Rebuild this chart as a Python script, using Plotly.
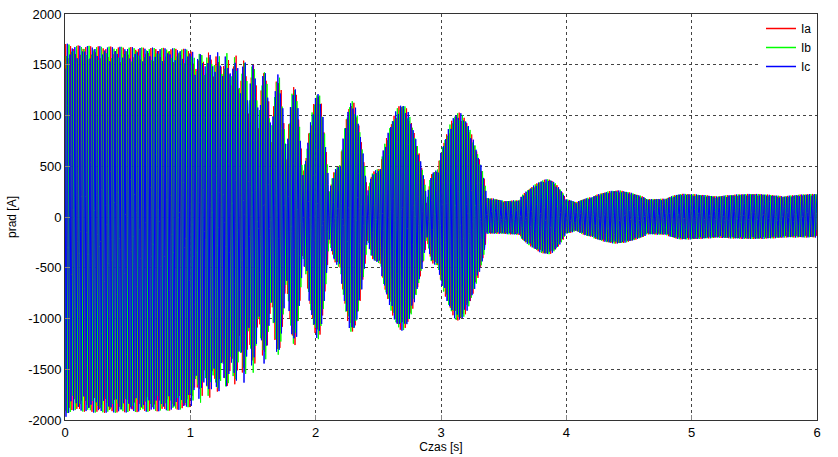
import numpy as np
import plotly.graph_objects as go

# ---- data ----
# envelope keypoints of the three-phase current (upper / lower edge of band), A
env_t = [0.00, 0.05, 0.30, 0.60, 0.90, 1.01, 1.045, 1.08, 1.115, 1.15, 1.185, 1.22, 1.255, 1.29, 1.325,
         1.36, 1.395, 1.43, 1.465, 1.50, 1.545, 1.59, 1.645, 1.70, 1.765, 1.83, 1.895, 1.93,
         2.02, 2.105, 2.165, 2.20, 2.29, 2.41, 2.46, 2.52, 2.69, 2.885, 2.93, 2.98, 3.14,
         3.36, 3.38, 3.50, 3.63, 3.856, 3.99, 4.08, 4.21, 4.40, 4.64, 4.80, 4.93, 5.20, 5.49, 5.73, 6.00]
env_up = [1710, 1690, 1680, 1670, 1660, 1650, 1450, 1645, 1430, 1635, 1420, 1625, 1380, 1615, 1300,
          1605, 1150, 1575, 1000, 1540, 850, 1460, 700, 1410, 500, 1295, 350, 600,
          1230, 180, 480, 520, 1145, 170, 440, 480, 1112, 100, 430, 470, 1030,
          190, 185, 155, 165, 372, 175, 140, 195, 262, 175, 180, 228, 200, 228, 200, 228]
env_lo = [-1990, -1900, -1930, -1920, -1900, -1860, -1550, -1830, -1520, -1790, -1480, -1750, -1420, -1710, -1350,
          -1665, -1150, -1635, -1000, -1535, -850, -1445, -700, -1370, -500, -1270, -350, -580,
          -1205, -165, -460, -500, -1140, -165, -420, -460, -1120, -135, -450, -480, -1025,
          -165, -165, -165, -175, -368, -165, -130, -196, -262, -170, -175, -222, -202, -217, -202, -202]

series_names = ["Ia", "Ib", "Ic"]
series_colors = ["#ff0000", "#00ff00", "#0000ff"]
phase_shift_deg = [0, -120, 120]
f_line = 50.0                 # supply frequency, Hz
t_end = 6.0
samples_per_cycle = 7.618     # logging step of the simulation output

y_ticks = [-2000, -1500, -1000, -500, 0, 500, 1000, 1500, 2000]
x_ticks = [0, 1, 2, 3, 4, 5, 6]


def smooth_env(t, kt, kv):
    """Rounded (elliptic-like) transition between envelope keypoints."""
    kt = np.asarray(kt, float)
    kv = np.asarray(kv, float)
    idx = np.clip(np.searchsorted(kt, t, side="right") - 1, 0, len(kt) - 2)
    t0, t1 = kt[idx], kt[idx + 1]
    v0, v1 = kv[idx], kv[idx + 1]
    s = np.clip((t - t0) / (t1 - t0), 0, 1)
    rising = np.abs(v1) > np.abs(v0)
    w_up = np.sqrt(1 - (1 - s) ** 2)
    w_dn = 1 - np.sqrt(1 - s ** 2)
    w_el = np.where(rising, w_up, w_dn)
    w_cos = (1 - np.cos(np.pi * s)) / 2
    w = 0.6 * w_el + 0.4 * w_cos
    return v0 + (v1 - v0) * w


t = np.arange(0, t_end + 1e-9, 1 / (f_line * samples_per_cycle))
up = smooth_env(t, env_t, env_up)
lo = smooth_env(t, env_t, env_lo)
mid = (up + lo) / 2
half = (up - lo) / 2

fig = go.Figure()
for name, col, ph in zip(series_names, series_colors, phase_shift_deg):
    y = mid + half * np.sin(2 * np.pi * f_line * t + np.deg2rad(ph))
    fig.add_trace(go.Scatter(x=t, y=y, mode="lines", name=name, showlegend=False,
                             line=dict(color=col, width=1)))
# legend entries (thicker sample lines, no data)
for name, col in zip(series_names, series_colors):
    fig.add_trace(go.Scatter(x=[None], y=[None], mode="lines", name=name,
                             line=dict(color=col, width=1.5)))

font_family = "Arial, Liberation Sans, sans-serif"
fig.update_layout(
    width=838, height=457,
    margin=dict(l=65, r=21, t=14, b=37, autoexpand=False),
    paper_bgcolor="white", plot_bgcolor="white",
    font=dict(family=font_family, size=12, color="black"),
    showlegend=True,
    legend=dict(x=1, y=1, xanchor="right", yanchor="top", bgcolor="white",
                borderwidth=0, font=dict(size=12), tracegroupgap=0,
                itemwidth=30),
)
fig.update_xaxes(range=[0, 6], tickvals=x_ticks, ticktext=[str(v) for v in x_ticks],
                 showgrid=True, gridcolor="#444", griddash="dot", gridwidth=1,
                 showline=True, mirror=True, linecolor="#333", linewidth=1,
                 ticks="inside", ticklen=5, tickcolor="#888", zeroline=False,
                 tickfont=dict(size=13), automargin=False,
                 title=dict(text="Czas [s]", font=dict(size=12), standoff=2))
fig.update_yaxes(range=[-2000, 2000], tickvals=y_ticks, ticktext=[str(v) for v in y_ticks],
                 showgrid=True, gridcolor="#444", griddash="dot", gridwidth=1,
                 showline=True, mirror=True, linecolor="#333", linewidth=1,
                 ticks="inside", ticklen=5, tickcolor="#888", zeroline=False,
                 tickfont=dict(size=13), automargin=False,
                 title=dict(text="prad [A]", font=dict(size=12), standoff=8))

fig.write_html("out.html", config={"displayModeBar": False},
               post_script="document.body.style.margin='0';document.body.style.overflow='hidden';")
